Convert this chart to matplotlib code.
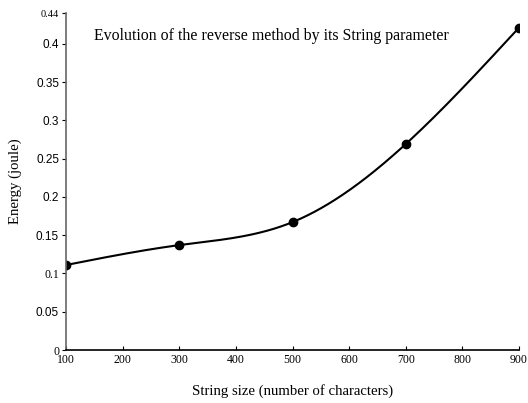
import numpy as np
import matplotlib
matplotlib.use("Agg")
import matplotlib.pyplot as plt

# string size (characters) vs measured energy (joule)
sizes = [100, 300, 500, 700, 900]
energy = [0.111, 0.137, 0.167, 0.269, 0.421]

xticks = [100, 200, 300, 400, 500, 600, 700, 800, 900]
yticks = [0, 0.05, 0.1, 0.15, 0.2, 0.25, 0.3, 0.35, 0.4, 0.44]
ylabels = ["0", "0.05", "0.1", "0.15", "0.2", "0.25", "0.3", "0.35", "0.4", "0.44"]
# the exported tick labels come in two typefaces
serif_labels = {"0", "0.1", "0.44"}


def natural_spline(x, y, xs):
    # natural cubic spline through the measured points
    x = np.asarray(x, float)
    y = np.asarray(y, float)
    n = len(x)
    h = np.diff(x)
    A = np.zeros((n, n))
    b = np.zeros(n)
    A[0, 0] = A[-1, -1] = 1
    for i in range(1, n - 1):
        A[i, i - 1] = h[i - 1]
        A[i, i] = 2 * (h[i - 1] + h[i])
        A[i, i + 1] = h[i]
        b[i] = 6 * ((y[i + 1] - y[i]) / h[i] - (y[i] - y[i - 1]) / h[i - 1])
    M = np.linalg.solve(A, b)
    idx = np.clip(np.searchsorted(x, xs) - 1, 0, n - 2)
    x0, x1 = x[idx], x[idx + 1]
    hh = x1 - x0
    t0, t1 = x1 - xs, xs - x0
    return (M[idx] * t0**3 / (6 * hh) + M[idx + 1] * t1**3 / (6 * hh)
            + (y[idx] / hh - M[idx] * hh / 6) * t0
            + (y[idx + 1] / hh - M[idx + 1] * hh / 6) * t1)


plt.rcParams['font.family'] = ['Liberation Serif', 'DejaVu Serif']

fig = plt.figure(figsize=(5.28, 4.03), dpi=100)
ax = fig.add_axes([0.125, 0.1315, 0.858, 0.836])

xs = np.linspace(sizes[0], sizes[-1], 400)
ax.plot(xs, natural_spline(sizes, energy, xs), color='black', lw=1.5)
ax.plot(sizes, energy, 'o', color='black', markersize=6)

ax.set_xlim(100, 900)
ax.set_ylim(0, 0.44)
ax.set_xticks(xticks)
ax.set_xticklabels([str(v) for v in xticks], fontsize=8.5)
ax.set_yticks(yticks)
ax.set_yticklabels(ylabels)
for lab in ax.get_yticklabels():
    if lab.get_text() in serif_labels:
        lab.set_fontsize(8.5 if lab.get_text() != "0.44" else 7.5)
    else:
        lab.set_family(['Liberation Sans', 'DejaVu Sans'])
        lab.set_fontsize(8.5)

ax.tick_params(axis='x', direction='in', length=3, width=0.8, pad=3)
ax.tick_params(axis='y', direction='out', length=3, width=0.8, pad=2)

ax.spines['top'].set_visible(False)
ax.spines['right'].set_visible(False)
ax.spines['left'].set_color('#666666')
ax.spines['left'].set_linewidth(1.2)
ax.spines['bottom'].set_linewidth(1.2)

ax.set_xlabel('String size (number of characters)', fontsize=10.6, labelpad=13)
ax.set_ylabel('Energy (joule)', fontsize=10.6, labelpad=10)
ax.text(0.062, 0.933, 'Evolution of the reverse method by its String parameter',
        transform=ax.transAxes, fontsize=11.4, va='center')

fig.savefig('out.png', dpi=100)
